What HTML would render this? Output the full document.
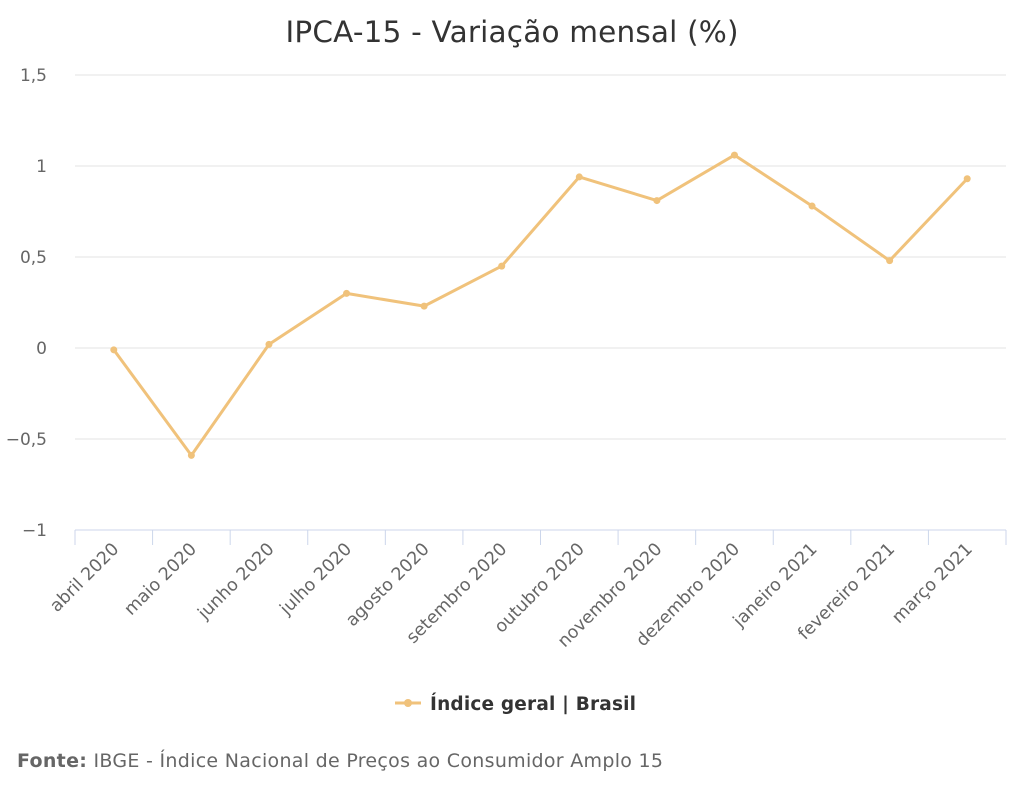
<!DOCTYPE html>
<html><head><meta charset="utf-8"><style>
body{margin:0;background:#fff;}
svg{display:block;font-family:"DejaVu Sans","Liberation Sans",sans-serif;}
</style></head><body>
<svg id="chart" width="1024" height="800">
<text x="512" y="42" text-anchor="middle" font-size="29.5" fill="#333" textLength="453">IPCA-15 - Variação mensal (%)</text>
<g id="grid"></g><g id="xaxis"></g><g id="series"></g>
<g>
<line x1="395" y1="703" x2="421" y2="703" stroke="#f0c27b" stroke-width="3"/>
<circle cx="408" cy="703" r="4" fill="#f0c27b"/>
<text x="430" y="710" font-size="18.5" font-weight="bold" fill="#333" textLength="206">Índice geral | Brasil</text>
</g>
<text x="17" y="767" font-size="19" fill="#666" textLength="646"><tspan font-weight="bold">Fonte:</tspan> IBGE - Índice Nacional de Preços ao Consumidor Amplo 15</text>
</svg>
<script>
const categories=["abril 2020","maio 2020","junho 2020","julho 2020","agosto 2020","setembro 2020","outubro 2020","novembro 2020","dezembro 2020","janeiro 2021","fevereiro 2021","março 2021"];
const values=[-0.01,-0.59,0.02,0.30,0.23,0.45,0.94,0.81,1.06,0.78,0.48,0.93];
const yTicks=[-1,-0.5,0,0.5,1,1.5];
const NS="http://www.w3.org/2000/svg";
const L=75,R=1006,T=75,B=530,yMin=-1,yMax=1.5;
const bw=(R-L)/categories.length;
const xs=i=>L+bw*(i+0.5);
const ys=v=>B-(v-yMin)/(yMax-yMin)*(B-T);
function mk(t,a,p){const e=document.createElementNS(NS,t);for(const k in a)e.setAttribute(k,a[k]);p.appendChild(e);return e;}
const grid=document.getElementById('grid'),xa=document.getElementById('xaxis'),se=document.getElementById('series');
yTicks.forEach(v=>{
 if(v!==yMin){const g=mk('line',{x1:L,x2:R,y1:ys(v),y2:ys(v),stroke:'#e3e3e3'},grid);
 
 }
 const t=mk('text',{x:47,y:ys(v)+6,'text-anchor':'end','font-size':17,fill:'#666'},grid);
 t.textContent=String(v).replace('.',',').replace('-','−');
 
 
});
const ax=mk('line',{x1:L,x2:R,y1:B,y2:B,stroke:'#ccd6eb'},xa);


for(let i=0;i<=categories.length;i++){mk('line',{x1:L+bw*i,x2:L+bw*i,y1:B,y2:B+15,stroke:'#ccd6eb'},xa);}
categories.forEach((c,i)=>{
 const x=xs(i)+6,y=550;
 const t=mk('text',{x:x,y:y,'text-anchor':'end','font-size':17.5,fill:'#666',transform:`rotate(-45 ${x} ${y})`},xa);
 t.textContent=c;
 
 
});
const pl=mk('polyline',{points:values.map((v,i)=>xs(i)+','+ys(v)).join(' '),fill:'none',stroke:'#f0c27b','stroke-width':3,'stroke-linejoin':'round'},se);


values.forEach((v,i)=>{
 const c=mk('circle',{cx:xs(i),cy:ys(v),r:3.5,fill:'#f0c27b'},se);
 
 
});
</script>
</body></html>
